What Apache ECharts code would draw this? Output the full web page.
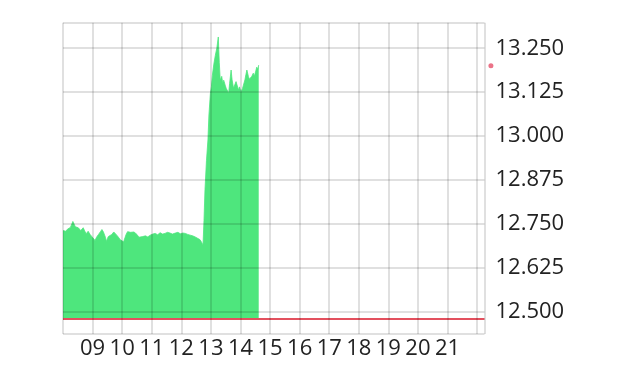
<!DOCTYPE html>
<html>
<head>
<meta charset="utf-8">
<script src="https://cdn.jsdelivr.net/npm/echarts@6/dist/echarts.min.js"></script>
<style>html,body{margin:0;padding:0;background:#fff}#c{width:625px;height:374px}</style>
</head>
<body>
<div id="c"></div>
<script>
const times = ['08:00','08:03','08:06','08:09','08:12','08:15','08:18','08:20','08:23','08:25','08:28','08:31','08:34','08:36','08:39','08:41','08:44','08:47','08:49','08:51','08:55','08:59','09:02','09:05','09:08','09:12','09:16','09:19','09:22','09:24','09:26','09:28','09:30','09:32','09:36','09:39','09:43','09:46','09:49','09:53','09:56','10:00','10:03','10:06','10:08','10:11','10:13','10:17','10:20','10:24','10:27','10:30','10:34','10:37','10:42','10:47','10:52','10:57','11:02','11:07','11:12','11:17','11:22','11:27','11:32','11:37','11:42','11:48','11:53','11:58','12:03','12:08','12:13','12:18','12:23','12:28','12:33','12:38','12:41','12:44','12:46','12:48','12:51','12:54','12:56','12:59','13:01','13:03','13:06','13:09','13:12','13:15','13:17','13:19','13:22','13:24','13:26','13:29','13:31','13:34','13:36','13:38','13:41','13:43','13:46','13:49','13:51','13:53','13:56','13:58','14:01','14:04','14:06','14:09','14:11','14:13','14:16','14:18','14:20','14:23','14:26','14:28','14:31','14:33','14:35','14:37'];
const prices = [12.731,12.734,12.729,12.735,12.738,12.740,12.750,12.757,12.748,12.742,12.737,12.739,12.735,12.731,12.736,12.739,12.730,12.722,12.727,12.729,12.720,12.713,12.709,12.703,12.712,12.720,12.728,12.734,12.727,12.723,12.712,12.700,12.708,12.714,12.717,12.720,12.727,12.722,12.718,12.711,12.705,12.702,12.699,12.712,12.720,12.728,12.733,12.726,12.723,12.727,12.729,12.720,12.712,12.709,12.714,12.716,12.713,12.718,12.721,12.723,12.719,12.725,12.721,12.723,12.726,12.724,12.721,12.724,12.726,12.722,12.724,12.723,12.720,12.718,12.716,12.713,12.709,12.705,12.698,12.690,12.760,12.847,12.930,12.989,13.060,13.122,13.140,13.173,13.205,13.230,13.250,13.282,13.210,13.159,13.170,13.150,13.159,13.145,13.136,13.128,13.122,13.150,13.188,13.160,13.136,13.148,13.155,13.154,13.131,13.140,13.125,13.135,13.136,13.160,13.175,13.188,13.170,13.162,13.159,13.170,13.179,13.170,13.185,13.196,13.190,13.202];
const prevClose = [12.479];
const lastPrice = [13.200];
const lastPriceTime = ['22:28'];
const xTickLabels = ['09','10','11','12','13','14','15','16','17','18','19','20','21'];
const yTickLabels = ['12.500','12.625','12.750','12.875','13.000','13.125','13.250'];
const xRange = ['08:00','22:15'];
const yRange = [12.4366, 13.3227];

const toMin = s => { const p = s.split(':'); return (+p[0]) * 60 + (+p[1]); };
const seriesData = times.map((t, i) => [toMin(t), prices[i]]);
const yLabelVals = yTickLabels.map(Number);
const yTickVals = [yRange[0]].concat(yLabelVals, [yRange[1]]);
const gridLine = {color: 'rgba(0,0,0,0.12)', width: 2};
const font = '"Open Sans", "Noto Sans", sans-serif';

const chart = echarts.init(document.getElementById('c'), null, {renderer: 'canvas'});
chart.setOption({
  animation: false,
  grid: {left: 63, right: 140.5, top: 22.7, bottom: 40},
  xAxis: {
    type: 'value', min: toMin(xRange[0]), max: toMin(xRange[1]), interval: 60, z: 10,
    axisLine: {show: false}, axisTick: {show: false},
    splitLine: {show: true, lineStyle: gridLine},
    axisLabel: {
      show: true, margin: 4, fontSize: 22, color: '#222', fontFamily: font, hideOverlap: false,
      showMinLabel: false, showMaxLabel: false,
      formatter: v => {
        if (v % 60 !== 0) return '';
        const h = String(v / 60).padStart(2, '0');
        return xTickLabels.indexOf(h) >= 0 ? h : '';
      }
    }
  },
  yAxis: {
    type: 'value', position: 'right', min: yRange[0], max: yRange[1], z: 10,
    axisLine: {show: false},
    axisTick: {show: false, customValues: yTickVals},
    splitLine: {show: true, lineStyle: gridLine},
    axisLabel: {
      show: true, margin: 11, fontSize: 22, color: '#222', fontFamily: font,
      customValues: yLabelVals,
      formatter: v => v.toFixed(3)
    }
  },
  series: [
    {
      type: 'line', data: seriesData, z: 1, symbol: 'none', smooth: false,
      lineStyle: {width: 0.8, color: 'rgb(78,230,125)'},
      areaStyle: {color: 'rgb(78,230,125)', opacity: 1, origin: prevClose[0]},
      silent: true
    },
    {
      type: 'line', data: [], z: 20, silent: true,
      markLine: {
        silent: true, symbol: 'none', label: {show: false},
        lineStyle: {color: '#e3505e', width: 2, type: 'solid'},
        data: [{yAxis: prevClose[0]}]
      }
    },
    {
      type: 'scatter', z: 20, clip: false, symbolSize: 5, silent: true,
      itemStyle: {color: '#e6506a'},
      data: [[toMin(lastPriceTime[0]), lastPrice[0]]]
    }
  ]
});
</script>
</body>
</html>
